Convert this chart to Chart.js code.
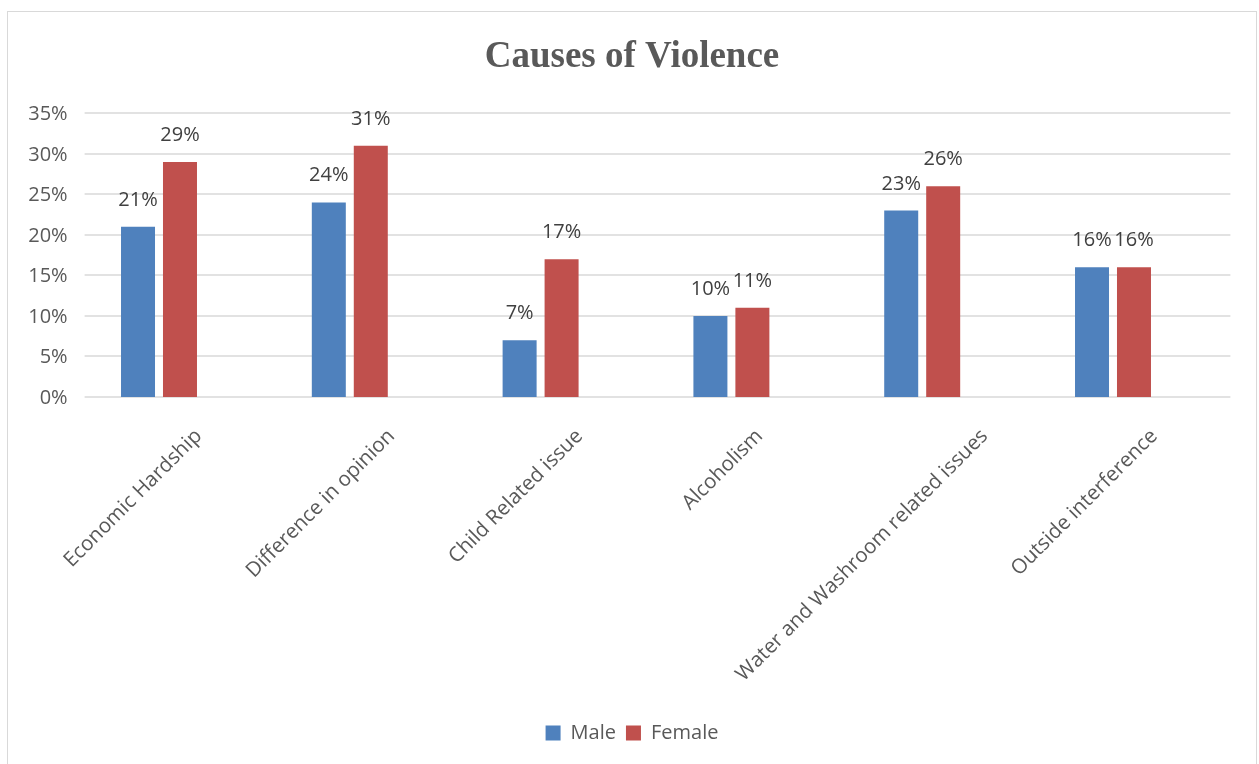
<!DOCTYPE html>
<html>
<head>
<meta charset="utf-8">
<title>Causes of Violence</title>
<script src="https://cdn.jsdelivr.net/npm/chart.js@4.4.0/dist/chart.umd.min.js"></script>
<style>
    html, body { margin: 0; padding: 0; background: #fff; overflow: hidden; }
    #wrap { position: relative; width: 1259px; height: 764px; }
    #frame { position: absolute; left: 7px; top: 11px; width: 1250px; height: 800px;
             border: 1px solid #d9d9d9; box-sizing: border-box; }
    #violenceChart { position: absolute; left: 0; top: 0; }
</style>
</head>
<body>
<div id="wrap">
    <div id="frame"></div>
    <canvas id="violenceChart" width="1259" height="764"></canvas>
</div>
<script>
// --- DATA ---
const categories = [
    'Economic Hardship',
    'Difference in opinion',
    'Child Related issue',
    'Alcoholism',
    'Water and Washroom related issues',
    'Outside interference'
];
const maleValues = [21, 24, 7, 10, 23, 16];
const femaleValues = [29, 31, 17, 11, 26, 16];
const yMin = 0;
const yMax = 35;
const yStep = 5;

// --- STYLE ---
const textGray = '#595959';
const labelDark = '#404040';
const gridGray = '#d9d9d9';
const sansFont = "'Open Sans', 'Noto Sans', sans-serif";

// gridlines + y tick labels a la Excel (grid spans a bit wider than the category band)
const gridPlugin = {
    id: 'excelGrid',
    beforeDatasetsDraw(chart) {
        const { ctx, chartArea, scales: { y } } = chart;
        ctx.save();
        ctx.strokeStyle = gridGray;
        ctx.lineWidth = 1.5;
        ctx.font = '20px ' + sansFont;
        ctx.fillStyle = textGray;
        ctx.textAlign = 'right';
        ctx.textBaseline = 'middle';
        y.ticks.forEach(t => {
            const py = Math.round(y.getPixelForValue(t.value));
            ctx.beginPath();
            ctx.moveTo(chartArea.left + 21, py);
            ctx.lineTo(chartArea.right + 22, py);
            ctx.stroke();
            ctx.fillText(t.value + '%', chartArea.left + 4, py + 1);
        });
        ctx.restore();
    }
};

// value labels above bars
const valueLabelPlugin = {
    id: 'valueLabels',
    afterDatasetsDraw(chart) {
        const { ctx } = chart;
        ctx.save();
        ctx.font = '20px ' + sansFont;
        ctx.fillStyle = labelDark;
        ctx.textAlign = 'center';
        ctx.textBaseline = 'alphabetic';
        chart.data.datasets.forEach((ds, i) => {
            chart.getDatasetMeta(i).data.forEach((bar, j) => {
                ctx.fillText(ds.data[j] + '%', bar.x, bar.y - 21);
            });
        });
        ctx.restore();
    }
};

// rotated category labels
const categoryLabelPlugin = {
    id: 'categoryLabels',
    afterDraw(chart) {
        const { ctx, chartArea, scales: { x } } = chart;
        const size = 20.5;
        const xh = 0.535 * size;
        ctx.save();
        ctx.font = size + 'px ' + sansFont;
        ctx.fillStyle = textGray;
        ctx.textAlign = 'right';
        ctx.textBaseline = 'alphabetic';
        chart.data.labels.forEach((lab, i) => {
            const w = ctx.measureText(lab).width;
            const extent = Math.SQRT1_2 * (w + xh);
            const ex = x.getPixelForValue(i) + 16 + 0.2 * extent;
            const ey = chartArea.bottom + 40;
            ctx.save();
            ctx.translate(ex, ey);
            ctx.rotate(-Math.PI / 4);
            ctx.fillText(lab, 0, 0);
            ctx.restore();
        });
        ctx.restore();
    }
};

const ctx = document.getElementById('violenceChart');

new Chart(ctx, {
    type: 'bar',
    data: {
        labels: categories,
        datasets: [
            {
                label: 'Male',
                data: maleValues,
                backgroundColor: '#4f81bd',
                borderWidth: 0,
                categoryPercentage: 0.44,
                barPercentage: 0.81
            },
            {
                label: 'Female',
                data: femaleValues,
                backgroundColor: '#c0504d',
                borderWidth: 0,
                categoryPercentage: 0.44,
                barPercentage: 0.81
            }
        ]
    },
    options: {
        responsive: false,
        animation: false,
        layout: { padding: { left: 55.6, right: 50.6, top: 0, bottom: 11 } },
        plugins: {
            title: {
                display: true,
                text: 'Causes of Violence',
                color: textGray,
                font: { family: "'Liberation Serif', 'Times New Roman', serif", size: 37, weight: 'bold' },
                padding: { top: 34.8, bottom: 34.1 }
            },
            legend: {
                position: 'bottom',
                labels: {
                    boxWidth: 15,
                    boxHeight: 15,
                    padding: 10,
                    color: textGray,
                    font: { family: sansFont, size: 20 }
                }
            },
            tooltip: { enabled: false }
        },
        scales: {
            x: {
                grid: { display: false, drawTicks: false },
                border: { display: false },
                ticks: { display: false },
                afterFit: s => { s.height = 316; }
            },
            y: {
                min: yMin,
                max: yMax,
                grid: { display: false, drawTicks: false },
                border: { display: false },
                ticks: { display: false, stepSize: yStep },
                afterFit: s => { s.width = 8; }
            }
        }
    },
    plugins: [gridPlugin, valueLabelPlugin, categoryLabelPlugin]
});
</script>
</body>
</html>
